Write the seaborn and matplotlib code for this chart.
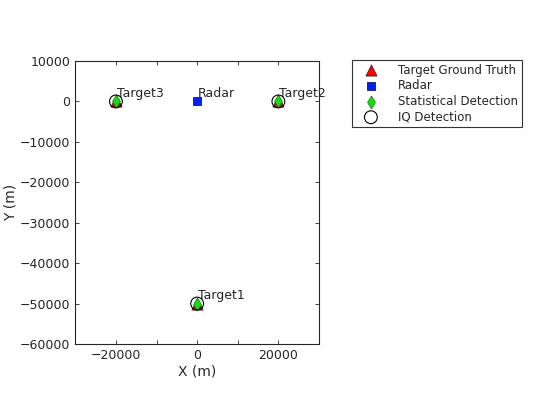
import matplotlib
matplotlib.use("Agg")
import matplotlib.pyplot as plt
import seaborn as sns
import pandas as pd

# positions (m)
target_names = ["Target1", "Target2", "Target3"]
target_x = [0, 20000, -20000]
target_y = [-50000, 0, 0]
radar_x = [0]
radar_y = [0]
stat_x = [0, 20000, -20000]
stat_y = [-50000, 0, 0]
iq_x = [0, 20000, -20000]
iq_y = [-50000, 0, 0]

x_ticks = [-20000, 0, 20000]
x_minor = [-10000, 10000]
y_ticks = [10000, 0, -10000, -20000, -30000, -40000, -50000, -60000]

sns.set_style("ticks", {"xtick.direction": "in", "ytick.direction": "in"})
plt.rcParams["font.family"] = ["DejaVu Sans"]
TXT = "#262626"

fig = plt.figure(figsize=(5.6, 4.2), dpi=100)
ax = fig.add_axes([75.3 / 560, 1 - 344 / 420, (319 - 75.3) / 560, (344 - 61) / 420])

truth = pd.DataFrame({"x": target_x, "y": target_y})
radar = pd.DataFrame({"x": radar_x, "y": radar_y})
stat = pd.DataFrame({"x": stat_x, "y": stat_y})
iq = pd.DataFrame({"x": iq_x, "y": iq_y})

sns.scatterplot(data=truth, x="x", y="y", marker="^", s=65, color="red",
                edgecolor="#222222", linewidth=0.5, ax=ax, label="Target Ground Truth", zorder=3)
sns.scatterplot(data=radar, x="x", y="y", marker="s", s=30, color="#0022ee",
                edgecolor="#000055", linewidth=0.5, ax=ax, label="Radar", zorder=3)
sns.scatterplot(data=stat, x="x", y="y", marker="d", s=45, color="#11dd11",
                edgecolor="#115511", linewidth=0.4, ax=ax, label="Statistical Detection", zorder=4)
sns.scatterplot(data=iq, x="x", y="y", marker="o", s=85, facecolor="none",
                edgecolor="black", linewidth=0.8, ax=ax, label="IQ Detection", zorder=5)

for name, x, y in zip(target_names, target_x, target_y):
    ax.annotate(name, (x, y), xytext=(0.5, 3.5), textcoords="offset points",
                ha="left", va="baseline", fontsize=9, color=TXT)
ax.annotate("Radar", (radar_x[0], radar_y[0]), xytext=(0.5, 3.5), textcoords="offset points",
            ha="left", va="baseline", fontsize=9, color=TXT)

ax.set_xlim(-30000, 30000)
ax.set_ylim(-60000, 10000)
ax.set_xticks(x_ticks)
ax.set_xticks(x_minor, minor=True)
ax.set_yticks(y_ticks)
ax.tick_params(which="both", top=True, right=True, labelsize=9, colors=TXT,
               length=3, width=0.6)
ax.tick_params(which="minor", length=3)
for sp in ax.spines.values():
    sp.set_visible(True)
    sp.set_color(TXT)
    sp.set_linewidth(0.8)

ax.set_xlabel("X (m)", fontsize=10, color=TXT, labelpad=2)
ax.set_ylabel("Y (m)", fontsize=10, color=TXT, labelpad=2)

leg = ax.legend(loc="upper left", bbox_to_anchor=(352 / 560, 1 - 60 / 420),
                bbox_transform=fig.transFigure, borderaxespad=0, fontsize=8.5,
                frameon=True, fancybox=False, handletextpad=1.0, borderpad=0.3,
                labelspacing=0.22, handlelength=2.6, markerscale=1.0)
leg.get_frame().set_edgecolor("black")
leg.get_frame().set_linewidth(0.8)
for t in leg.get_texts():
    t.set_color(TXT)

fig.savefig("out.png", dpi=100)
